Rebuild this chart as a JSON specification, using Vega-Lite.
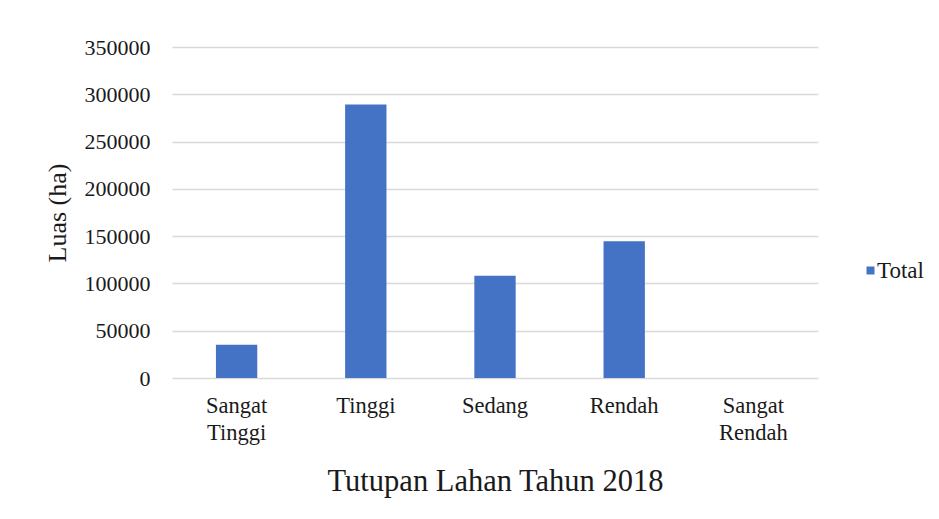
{
  "$schema": "https://vega.github.io/schema/vega-lite/v6.json",
  "autosize": {"type": "none"},
  "padding": {"left": 172, "top": 47, "right": 121, "bottom": 141},
  "width": 646,
  "height": 331,
  "background": "white",
  "config": {
    "view": {"stroke": null},
    "font": "Liberation Serif",
    "axis": {"labelColor": "#1a1a1a", "titleColor": "#1a1a1a", "titleFontWeight": "normal", "labelFont": "Liberation Serif", "titleFont": "Liberation Serif"},
    "legend": {"labelFont": "Liberation Serif", "labelColor": "#1a1a1a"}
  },
  "data": {
    "values": [
      {"kategori": "Sangat Tinggi", "luas": 35200, "series": "Total"},
      {"kategori": "Tinggi", "luas": 289200, "series": "Total"},
      {"kategori": "Sedang", "luas": 108000, "series": "Total"},
      {"kategori": "Rendah", "luas": 144500, "series": "Total"},
      {"kategori": "Sangat Rendah", "luas": 0, "series": "Total"}
    ]
  },
  "mark": {"type": "bar", "color": "#4472C4"},
  "encoding": {
    "x": {
      "field": "kategori",
      "type": "nominal",
      "sort": null,
      "scale": {"paddingInner": 0.68, "paddingOuter": 0.34},
      "axis": {
        "title": "Tutupan Lahan Tahun 2018",
        "titleFontSize": 30.5,
        "titlePadding": 23,
        "labelAngle": 0,
        "labelFontSize": 22.5,
        "labelLineHeight": 27,
        "labelPadding": 16,
        "labelExpr": "split(datum.label, ' ')",
        "ticks": false,
        "tickSize": 0,
        "domain": false,
        "grid": false
      }
    },
    "y": {
      "field": "luas",
      "type": "quantitative",
      "scale": {"domain": [0, 350000], "nice": false},
      "axis": {
        "title": "Luas (ha)",
        "titleFontSize": 26,
        "titlePadding": 14,
        "values": [0, 50000, 100000, 150000, 200000, 250000, 300000, 350000],
        "format": "d",
        "labelFontSize": 22,
        "labelPadding": 22,
        "ticks": false,
        "tickSize": 0,
        "domain": false,
        "grid": true,
        "gridColor": "#d9d9d9",
        "gridWidth": 1.3
      }
    },
    "color": {
      "field": "series",
      "type": "nominal",
      "scale": {"range": ["#4472C4"]},
      "legend": {
        "title": null,
        "orient": "none",
        "legendX": 687,
        "legendY": 212,
        "padding": 0,
        "symbolType": "square",
        "symbolSize": 64,
        "symbolStrokeWidth": 0,
        "labelFontSize": 23,
        "labelOffset": -5
      }
    }
  }
}
